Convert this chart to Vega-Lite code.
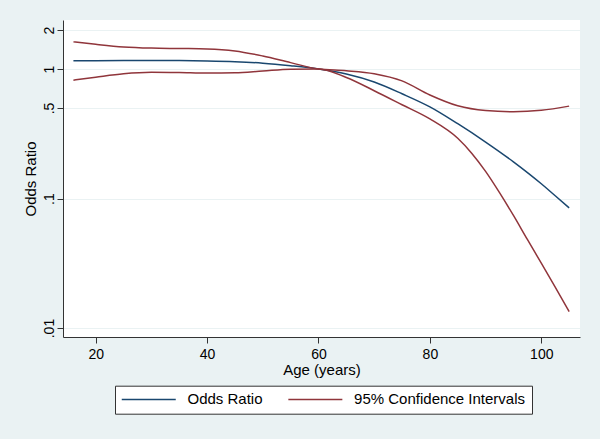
{
  "$schema": "https://vega.github.io/schema/vega-lite/v6.json",
  "autosize": {"type": "none"},
  "padding": {"left": 63, "top": 20, "right": 20, "bottom": 102},
  "width": 517,
  "height": 317,
  "background": "#eaf2f3",
  "config": {
    "view": {"stroke": null, "fill": "white"},
    "font": "Liberation Sans",
    "axis": {"labelColor": "black", "titleColor": "black", "titleFontWeight": "normal", "domainColor": "#333333", "tickColor": "#333333", "labelFont": "Liberation Sans", "titleFont": "Liberation Sans"}
  },
  "data": {
    "values": [
      {"age": 16, "line": "or", "series": "Odds Ratio", "value": 1.16},
      {"age": 20, "line": "or", "series": "Odds Ratio", "value": 1.16},
      {"age": 25, "line": "or", "series": "Odds Ratio", "value": 1.162},
      {"age": 30, "line": "or", "series": "Odds Ratio", "value": 1.165},
      {"age": 35, "line": "or", "series": "Odds Ratio", "value": 1.162},
      {"age": 40, "line": "or", "series": "Odds Ratio", "value": 1.155},
      {"age": 45, "line": "or", "series": "Odds Ratio", "value": 1.14},
      {"age": 50, "line": "or", "series": "Odds Ratio", "value": 1.11},
      {"age": 55, "line": "or", "series": "Odds Ratio", "value": 1.06},
      {"age": 60, "line": "or", "series": "Odds Ratio", "value": 1.0},
      {"age": 65, "line": "or", "series": "Odds Ratio", "value": 0.915},
      {"age": 70, "line": "or", "series": "Odds Ratio", "value": 0.794},
      {"age": 75, "line": "or", "series": "Odds Ratio", "value": 0.644},
      {"age": 80, "line": "or", "series": "Odds Ratio", "value": 0.51},
      {"age": 85, "line": "or", "series": "Odds Ratio", "value": 0.378},
      {"age": 90, "line": "or", "series": "Odds Ratio", "value": 0.273},
      {"age": 95, "line": "or", "series": "Odds Ratio", "value": 0.192},
      {"age": 100, "line": "or", "series": "Odds Ratio", "value": 0.13},
      {"age": 102.5, "line": "or", "series": "Odds Ratio", "value": 0.105},
      {"age": 105, "line": "or", "series": "Odds Ratio", "value": 0.0848},

      {"age": 16, "line": "upper", "series": "95% Confidence Intervals", "value": 1.62},
      {"age": 20, "line": "upper", "series": "95% Confidence Intervals", "value": 1.55},
      {"age": 25, "line": "upper", "series": "95% Confidence Intervals", "value": 1.48},
      {"age": 30, "line": "upper", "series": "95% Confidence Intervals", "value": 1.45},
      {"age": 35, "line": "upper", "series": "95% Confidence Intervals", "value": 1.44},
      {"age": 40, "line": "upper", "series": "95% Confidence Intervals", "value": 1.43},
      {"age": 45, "line": "upper", "series": "95% Confidence Intervals", "value": 1.38},
      {"age": 50, "line": "upper", "series": "95% Confidence Intervals", "value": 1.26},
      {"age": 55, "line": "upper", "series": "95% Confidence Intervals", "value": 1.12},
      {"age": 60, "line": "upper", "series": "95% Confidence Intervals", "value": 1.0},
      {"age": 65, "line": "upper", "series": "95% Confidence Intervals", "value": 0.97},
      {"age": 70, "line": "upper", "series": "95% Confidence Intervals", "value": 0.92},
      {"age": 75, "line": "upper", "series": "95% Confidence Intervals", "value": 0.81},
      {"age": 80, "line": "upper", "series": "95% Confidence Intervals", "value": 0.63},
      {"age": 85, "line": "upper", "series": "95% Confidence Intervals", "value": 0.52},
      {"age": 90, "line": "upper", "series": "95% Confidence Intervals", "value": 0.478},
      {"age": 95, "line": "upper", "series": "95% Confidence Intervals", "value": 0.468},
      {"age": 100, "line": "upper", "series": "95% Confidence Intervals", "value": 0.48},
      {"age": 105, "line": "upper", "series": "95% Confidence Intervals", "value": 0.517},

      {"age": 16, "line": "lower", "series": "95% Confidence Intervals", "value": 0.82},
      {"age": 20, "line": "lower", "series": "95% Confidence Intervals", "value": 0.865},
      {"age": 25, "line": "lower", "series": "95% Confidence Intervals", "value": 0.92},
      {"age": 30, "line": "lower", "series": "95% Confidence Intervals", "value": 0.945},
      {"age": 35, "line": "lower", "series": "95% Confidence Intervals", "value": 0.94},
      {"age": 40, "line": "lower", "series": "95% Confidence Intervals", "value": 0.93},
      {"age": 45, "line": "lower", "series": "95% Confidence Intervals", "value": 0.935},
      {"age": 50, "line": "lower", "series": "95% Confidence Intervals", "value": 0.965},
      {"age": 55, "line": "lower", "series": "95% Confidence Intervals", "value": 0.995},
      {"age": 60, "line": "lower", "series": "95% Confidence Intervals", "value": 1.0},
      {"age": 65, "line": "lower", "series": "95% Confidence Intervals", "value": 0.86},
      {"age": 70, "line": "lower", "series": "95% Confidence Intervals", "value": 0.68},
      {"age": 75, "line": "lower", "series": "95% Confidence Intervals", "value": 0.53},
      {"age": 80, "line": "lower", "series": "95% Confidence Intervals", "value": 0.412},
      {"age": 85, "line": "lower", "series": "95% Confidence Intervals", "value": 0.292},
      {"age": 87.5, "line": "lower", "series": "95% Confidence Intervals", "value": 0.224},
      {"age": 90, "line": "lower", "series": "95% Confidence Intervals", "value": 0.162},
      {"age": 92.5, "line": "lower", "series": "95% Confidence Intervals", "value": 0.111},
      {"age": 95, "line": "lower", "series": "95% Confidence Intervals", "value": 0.074},
      {"age": 97.5, "line": "lower", "series": "95% Confidence Intervals", "value": 0.0483},
      {"age": 100, "line": "lower", "series": "95% Confidence Intervals", "value": 0.0317},
      {"age": 102.5, "line": "lower", "series": "95% Confidence Intervals", "value": 0.0207},
      {"age": 105, "line": "lower", "series": "95% Confidence Intervals", "value": 0.0134}
    ]
  },
  "mark": {"type": "line", "interpolate": "monotone", "strokeWidth": 1.5},
  "encoding": {
    "x": {
      "field": "age", "type": "quantitative",
      "scale": {"domain": [14.13, 106.95], "nice": false, "zero": false},
      "axis": {
        "values": [20, 40, 60, 80, 100], "grid": false, "title": "Age (years)",
        "labelFontSize": 14, "labelPadding": 4, "tickSize": 6,
        "titleFontSize": 15, "titleX": 258.5, "titleY": 37, "titleAlign": "center", "titleBaseline": "alphabetic",
        "domainWidth": 1
      }
    },
    "y": {
      "field": "value", "type": "quantitative",
      "scale": {"type": "log", "domain": [0.00853, 2.39], "nice": false},
      "axis": {
        "values": [0.01, 0.1, 0.5, 1, 2],
        "labelExpr": "datum.value < 1 ? replace(toString(datum.value), '0.', '.') : toString(datum.value)",
        "labelAngle": -90, "labelAlign": "center", "labelBaseline": "alphabetic",
        "labelFontSize": 14, "labelPadding": 4, "tickSize": 6,
        "grid": true, "gridColor": "#eaf2f3", "gridWidth": 1,
        "title": "Odds Ratio", "titleFontSize": 15, "titleAngle": -90,
        "titleX": -28, "titleY": 158.5, "titleAlign": "center", "titleBaseline": "alphabetic"
      }
    },
    "color": {
      "field": "series", "type": "nominal",
      "scale": {"domain": ["Odds Ratio", "95% Confidence Intervals"], "range": ["#1a476f", "#90353b"]},
      "legend": {
        "title": null, "orient": "none", "legendX": 52, "legendY": 365.7,
        "direction": "horizontal", "columns": 2,
        "symbolType": "M-1,0H7", "symbolSize": 182.25, "symbolStrokeWidth": 1.5,
        "labelFontSize": 15, "labelFont": "Liberation Sans", "labelColor": "black", "labelLimit": 400,
        "labelOffset": 51.5, "columnPadding": 21.6, "padding": 6,
        "fillColor": "white", "strokeColor": "#333333"
      }
    },
    "detail": {"field": "line", "type": "nominal"}
  }
}
